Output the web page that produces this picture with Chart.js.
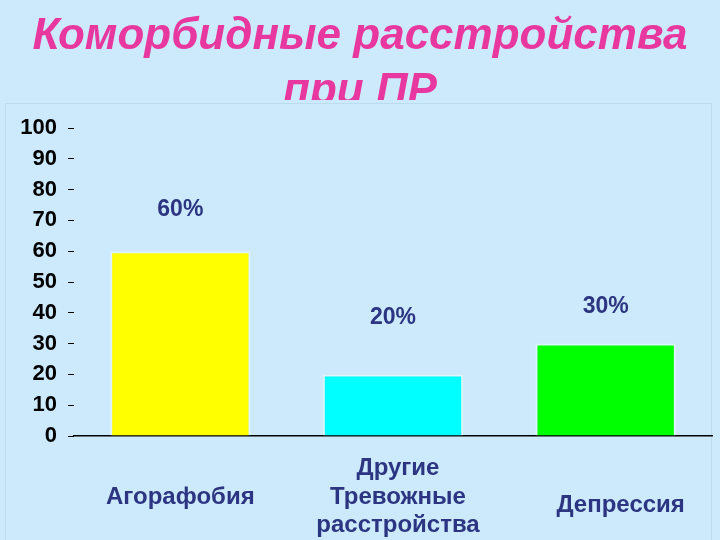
<!DOCTYPE html>
<html>
<head>
<meta charset="utf-8">
<script src="https://cdn.jsdelivr.net/npm/chart.js@4.4.0/dist/chart.umd.min.js"></script>
<style>
  html, body { margin: 0; padding: 0; background: #CCEAFB; }
  #wrap { position: relative; width: 720px; height: 540px; overflow: hidden; }
  #title {
    position: absolute; left: 0; top: 0; width: 720px; height: 100px;
    overflow: hidden; text-align: center; z-index: 2;
    font-family: "Liberation Sans", Arial, sans-serif; font-weight: bold; font-style: italic;
    font-size: 44px; line-height: 55px; color: #E8379F; padding-top: 6px; box-sizing: border-box;
  }
  #frame {
    position: absolute; left: 5px; top: 103px; width: 707px; height: 440px;
    border: 1px solid rgba(150, 185, 210, 0.3); box-sizing: border-box;
  }
  canvas { position: absolute; left: 0; top: 0; }
</style>
</head>
<body>
<div id="wrap">
  <div id="frame"></div>
  <div id="title">Коморбидные расстройства<br>при ПР</div>
  <canvas id="chart" width="720" height="540"></canvas>
</div>
<script>
// Data
const categories = [["Агорафобия"], ["Другие", "Тревожные", "расстройства"], ["Депрессия"]];
const values = [60, 20, 30];
const valueLabels = ["60%", "20%", "30%"];
const barColors = ["#FFFF00", "#00FFFF", "#00FF00"];
const yTicks = [0, 10, 20, 30, 40, 50, 60, 70, 80, 90, 100];

const navy = "#2B3582";

// Draws the % labels above the bars and the category names under the axis
const labelPlugin = {
  id: "labels",
  afterDatasetsDraw(chart, args, opts) {
    const ctx = chart.ctx;
    const meta = chart.getDatasetMeta(0);
    ctx.save();
    ctx.fillStyle = navy;
    ctx.textAlign = "center";
    ctx.textBaseline = "middle";
    ctx.font = "bold 23px 'Liberation Sans', Arial, sans-serif";
    meta.data.forEach(function (bar, i) {
      ctx.fillText(valueLabels[i], bar.x, bar.y - opts.lift[i]);
    });
    ctx.font = "bold 24px 'Liberation Sans', Arial, sans-serif";
    const base = chart.chartArea.bottom + opts.catGap;
    meta.data.forEach(function (bar, i) {
      const lines = categories[i];
      const start = base + opts.catNudge[i] - (lines.length - 1) * opts.lineH / 2;
      lines.forEach(function (t, j) {
        ctx.fillText(t, bar.x + opts.catShift[i], start + j * opts.lineH);
      });
    });
    ctx.restore();
  }
};

const ctx = document.getElementById("chart").getContext("2d");
new Chart(ctx, {
  type: "bar",
  data: {
    labels: categories.map(function (c) { return c.join(" "); }),
    datasets: [{
      data: values,
      backgroundColor: barColors,
      borderColor: "rgba(235, 248, 255, 0.6)",
      borderWidth: 2,
      borderSkipped: "bottom",
      categoryPercentage: 1,
      barPercentage: 0.66
    }]
  },
  options: {
    responsive: false,
    animation: false,
    layout: { padding: { top: 128, left: 0, right: 8, bottom: 0 } },
    plugins: {
      legend: { display: false },
      tooltip: { enabled: false },
      labels: { lift: [42, 57, 37], catGap: 61, catNudge: [0, 0, 8], catShift: [0, 5, 15], lineH: 28.5 }
    },
    scales: {
      x: {
        grid: { display: false },
        border: { display: true, color: "#000", width: 1.5 },
        ticks: { display: false },
        afterFit: function (scale) { scale.height = 104; }
      },
      y: {
        min: 0,
        max: 100,
        afterBuildTicks: function (scale) {
          scale.ticks = yTicks.map(function (v) { return { value: v }; });
        },
        afterFit: function (scale) { scale.width = 74; },
        grid: { drawOnChartArea: false, drawTicks: true, tickLength: 6, color: "#000", lineWidth: 1 },
        border: { display: false },
        ticks: {
          padding: 11,
          color: "#000",
          font: { family: "'Liberation Sans', Arial, sans-serif", size: 22, weight: "bold" }
        }
      }
    }
  },
  plugins: [labelPlugin]
});
</script>
</body>
</html>
